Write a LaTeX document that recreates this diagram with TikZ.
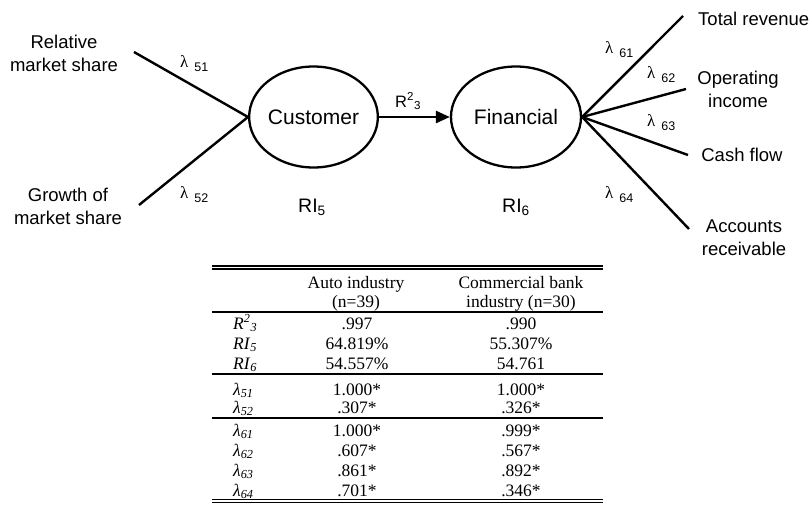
\documentclass[tikz,border=0pt]{standalone}
\usepackage{fontspec}
\setmainfont{Liberation Serif}
\setsansfont{Liberation Sans}
\usetikzlibrary{shapes.geometric,arrows.meta}
\newcommand{\dlam}[1]{{\rmfamily\fontsize{17}{17}\selectfont λ}\hspace{6pt}\raisebox{-4pt}{\sffamily\fontsize{12.5}{12.5}\selectfont #1}}
\newcommand{\tlam}[1]{\textit{λ}\textsubscript{\textit{#1}}}
\begin{document}
\begin{tikzpicture}[x=1pt,y=-1pt,
  lbl/.style={font=\sffamily\fontsize{18.5}{23}\selectfont, align=center, inner sep=0pt},
  latent/.style={ellipse, draw, line width=2.3pt, minimum height=101pt, inner sep=0pt,
    font=\sffamily\fontsize{21}{21}\selectfont},
  conn/.style={line width=2.4pt},
  lamlbl/.style={anchor=base west, inner sep=0pt},
  tcell/.style={font=\fontsize{17.5}{17.5}\selectfont, anchor=base, inner sep=0pt},
  thead/.style={font=\fontsize{17.5}{19}\selectfont, align=center, inner sep=0pt},
  tlab/.style={font=\fontsize{17.5}{17.5}\selectfont, anchor=base west, inner sep=0pt},
  trule/.style={line width=1.2pt}]
\useasboundingbox (0,0) rectangle (812,504);

% latent variables
\node[latent, minimum width=128pt] (cust) at (313.5,117) {Customer};
\node[latent, minimum width=130pt] (fin) at (516,117) {Financial};
\draw[conn, line width=2.6pt, -{Triangle[length=14pt,width=12pt]}] (cust) -- (fin);
\node[anchor=base west, inner sep=0pt, font=\sffamily\fontsize{16.5}{17}\selectfont] (r2) at (395,107) {R\textsuperscript{2}\textsubscript{3}};
\node[anchor=base, inner sep=0pt, font=\sffamily\fontsize{19.5}{20}\selectfont] (ri5) at (312,212) {RI\textsubscript{5}};
\node[anchor=base, inner sep=0pt, font=\sffamily\fontsize{19.5}{20}\selectfont] (ri6) at (516,212) {RI\textsubscript{6}};

% indicators of Customer
\node[lbl] (rms) at (64,53) {Relative\\market share};
\node[lbl] (gms) at (68,206) {Growth of\\market share};
\coordinate (e51) at (134,52);
\coordinate (e52) at (139,205);
\draw[conn] (e51) -- (cust.west);
\draw[conn] (e52) -- (cust.west);
\node[lamlbl] (l51) at (180,67) {\dlam{51}};
\node[lamlbl] (l52) at (180,198) {\dlam{52}};

% indicators of Financial
\node[lbl, anchor=west] (tr) at (698,18.5) {Total revenue};
\node[lbl] (oi) at (738,89.5) {Operating\\income};
\node[lbl] (cf) at (742,155) {Cash flow};
\node[lbl] (ar) at (744,237.5) {Accounts\\receivable};
\coordinate (e61) at (683,16);
\coordinate (e62) at (686,89);
\coordinate (e63) at (688,155);
\coordinate (e64) at (689,229);
\draw[conn] (fin.east) -- (e61);
\draw[conn] (fin.east) -- (e62);
\draw[conn] (fin.east) -- (e63);
\draw[conn] (fin.east) -- (e64);
\node[lamlbl] (l61) at (605,53) {\dlam{61}};
\node[lamlbl] (l62) at (647,78) {\dlam{62}};
\node[lamlbl] (l63) at (647,126) {\dlam{63}};
\node[lamlbl] (l64) at (605,198) {\dlam{64}};

% table
\draw[trule] (212,266) -- (603,266);
\draw[trule] (212,269) -- (603,269);
\draw[trule] (212,312) -- (603,312);
\draw[trule] (212,374) -- (603,374);
\draw[trule] (212,418) -- (603,418);
\draw[trule] (212,499.5) -- (603,499.5);
\draw[trule] (212,502.5) -- (603,502.5);

\node[thead] (h1) at (356,293.5) {Auto industry\\(n=39)};
\node[thead] (h2) at (521,293.5) {Commercial bank\\industry (n=30)};

\node[tlab] (tr2) at (233,329) {\textit{R}\textsuperscript{\textit{2}}\textsubscript{\textit{3}}};
\node[tcell] (a1) at (357,329) {.997};
\node[tcell] (b1) at (521,329) {.990};
\node[tlab] (tri5) at (233,349) {\textit{RI}\textsubscript{\textit{5}}};
\node[tcell] (a2) at (357,349) {64.819\%};
\node[tcell] (b2) at (521,349) {55.307\%};
\node[tlab] (tri6) at (233,369) {\textit{RI}\textsubscript{\textit{6}}};
\node[tcell] (a3) at (357,369) {54.557\%};
\node[tcell] (b3) at (521,369) {54.761};

\node[tlab] (t51) at (233,395) {\tlam{51}};
\node[tcell] (a4) at (357,395) {1.000*};
\node[tcell] (b4) at (521,395) {1.000*};
\node[tlab] (t52) at (233,413) {\tlam{52}};
\node[tcell] (a5) at (357,413) {.307*};
\node[tcell] (b5) at (521,413) {.326*};

\node[tlab] (t61) at (233,436) {\tlam{61}};
\node[tcell] (a6) at (357,436) {1.000*};
\node[tcell] (b6) at (521,436) {.999*};
\node[tlab] (t62) at (233,456) {\tlam{62}};
\node[tcell] (a7) at (357,456) {.607*};
\node[tcell] (b7) at (521,456) {.567*};
\node[tlab] (t63) at (233,476) {\tlam{63}};
\node[tcell] (a8) at (357,476) {.861*};
\node[tcell] (b8) at (521,476) {.892*};
\node[tlab] (t64) at (233,496) {\tlam{64}};
\node[tcell] (a9) at (357,496) {.701*};
\node[tcell] (b9) at (521,496) {.346*};
\end{tikzpicture}
\end{document}
